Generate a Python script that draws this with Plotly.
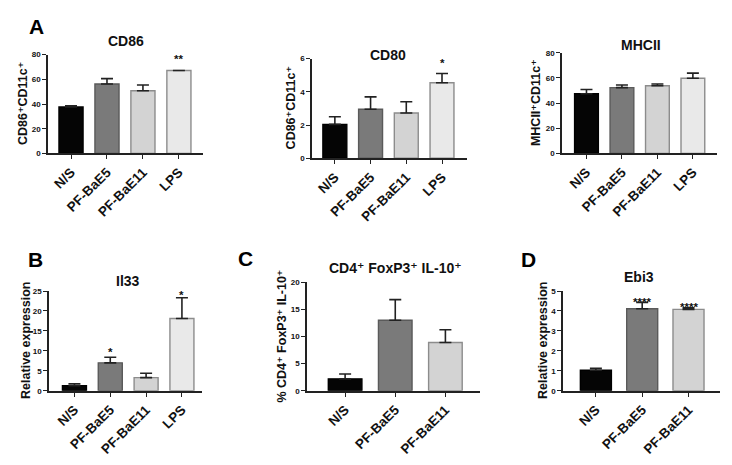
import plotly.graph_objects as go

# page body has an 8px margin; work in reference pixel coordinates and offset
OFF = 8
W, H = 732 - 2 * OFF, 465 - 2 * OFF

cats4 = ["N/S", "PF-BaE5", "PF-BaE11", "LPS"]
cats3 = ["N/S", "PF-BaE5", "PF-BaE11"]

cd86_mean = [37.6, 56.2, 50.7, 67.2]
cd86_err = [0.9, 4.4, 4.7, 0.0]
cd80_mean = [2.04, 2.95, 2.72, 4.54]
cd80_err = [0.46, 0.74, 0.68, 0.56]
mhc_mean = [47.4, 52.3, 53.8, 59.7]
mhc_err = [3.4, 2.1, 1.3, 4.1]
il33_mean = [1.3, 7.0, 3.3, 18.1]
il33_err = [0.45, 1.4, 1.1, 5.2]
foxp3_mean = [2.2, 13.0, 8.9]
foxp3_err = [0.9, 3.8, 2.35]
ebi3_mean = [1.03, 4.11, 4.08]
ebi3_err = [0.10, 0.32, 0.08]

fill4 = ["#050505", "#7a7a7a", "#d3d3d3", "#e9e9e9"]
line4 = ["#000000", "#5a5a5a", "#8c8c8c", "#8c8c8c"]

FONT = "Liberation Sans, Arial, DejaVu Sans, sans-serif"


def px(x):
    return (x - OFF) / W


def py(y):
    return 1 - (y - OFF) / H


panels = [
    ("", cats4, cd86_mean, cd86_err, (48, 203), (52, 154), [0, 80], [-0.64, 3.67], 20,
     "CD86", (126, 38), "CD86⁺CD11c⁺", 23, [("LPS", "**", 3)]),
    ("2", cats4, cd80_mean, cd80_err, (312, 467), (56, 159), [0, 6], [-0.64, 3.70], 2,
     "CD80", (388, 52), "CD86⁺CD11c⁺", 291, [("LPS", "*", 2)]),
    ("3", cats4, mhc_mean, mhc_err, (562, 717), (50, 154), [0, 80], [-0.69, 3.68], 20,
     "MHCII", (641, 42), "MHCII⁺CD11c⁺", 536, []),
    ("4", cats4, il33_mean, il33_err, (49, 202), (296, 399), [0, 25], [-0.71, 3.56], 5,
     "Il33", (128, 286), "Relative expression", 26, [("PF-BaE5", "*", -3), ("LPS", "*", -5)]),
    ("5", cats3, foxp3_mean, foxp3_err, (307, 480), (287, 399), [0, 20], [-0.76, 2.69], 5,
     "CD4⁺ FoxP3⁺ IL-10⁺", (395, 272),
     "% CD4⁺ FoxP3⁺ IL-10⁺", 282, []),
    ("6", cats3, ebi3_mean, ebi3_err, (563, 720), (296, 399), [0, 5], [-0.71, 2.68], 1,
     "Ebi3", (639, 282), "Relative expression", 543, [("PF-BaE5", "****", -8), ("PF-BaE11", "****", -7)]),
]

fig = go.Figure()
layout = {}
annotations = []

for key, cats, means, errs, xp, yp, yr, xr, dt, title, txy, ytitle, ytx, stars in panels:
    n = len(cats)
    fig.add_trace(go.Bar(
        x=cats, y=means,
        xaxis="x" + key, yaxis="y" + key,
        width=0.67,
        marker=dict(color=fill4[:n], line=dict(color=line4[:n], width=1.4)),
        error_y=dict(type="data", symmetric=False, array=errs, arrayminus=[0] * n,
                     color="#222222", thickness=1.6, width=6),
        showlegend=False,
    ))
    xdom = [px(xp[0]), px(xp[1])]
    ydom = [py(yp[1]), py(yp[0])]
    layout["xaxis" + key] = dict(
        domain=xdom, anchor="y" + key, type="category", range=xr,
        showline=True, linecolor="#222222", linewidth=1.6,
        ticks="outside", ticklen=4, tickcolor="#222222", tickwidth=1.4,
        tickangle=-45, tickfont=dict(family=FONT, size=13.5, color="#111111", weight="bold"),
        showgrid=False, zeroline=False, fixedrange=True,
    )
    layout["yaxis" + key] = dict(
        domain=ydom, anchor="x" + key, range=yr, dtick=dt,
        showline=True, linecolor="#222222", linewidth=1.6,
        ticks="outside", ticklen=4, tickcolor="#222222", tickwidth=1.4,
        tickfont=dict(family=FONT, size=8, color="#111111", weight="bold"),
        showgrid=False, zeroline=False, fixedrange=True,
    )
    annotations.append(dict(
        text=title, x=px(txy[0]), y=py(txy[1]), xref="paper", yref="paper",
        xanchor="center", yanchor="middle", showarrow=False,
        font=dict(family=FONT, size=14, color="#111111", weight="bold"),
    ))
    annotations.append(dict(
        text=ytitle, x=px(ytx), y=(ydom[0] + ydom[1]) / 2, xref="paper", yref="paper",
        xanchor="center", yanchor="middle", textangle=-90, showarrow=False,
        font=dict(family=FONT, size=12.5, color="#111111", weight="bold"),
    ))
    for cat, s, ys in stars:
        i = cats.index(cat)
        annotations.append(dict(
            text=s, x=cat, y=means[i] + errs[i], xref="x" + key, yref="y" + key,
            xanchor="center", yanchor="bottom", yshift=ys, showarrow=False,
            font=dict(family=FONT, size=11.5, color="#111111", weight="bold"),
        ))

for letter, (lx, ly) in {"A": (36, 23), "B": (35, 263), "C": (245, 262), "D": (528, 263)}.items():
    annotations.append(dict(
        text=letter, x=px(lx), y=py(ly), xref="paper", yref="paper",
        xanchor="center", yanchor="middle", showarrow=False,
        font=dict(family=FONT, size=21, color="#000000", weight="bold"),
    ))

fig.update_layout(
    width=W, height=H, margin=dict(l=0, r=0, t=0, b=0),
    paper_bgcolor="white", plot_bgcolor="white",
    bargap=0.33, annotations=annotations, **layout,
)

fig.write_html("out.html")
